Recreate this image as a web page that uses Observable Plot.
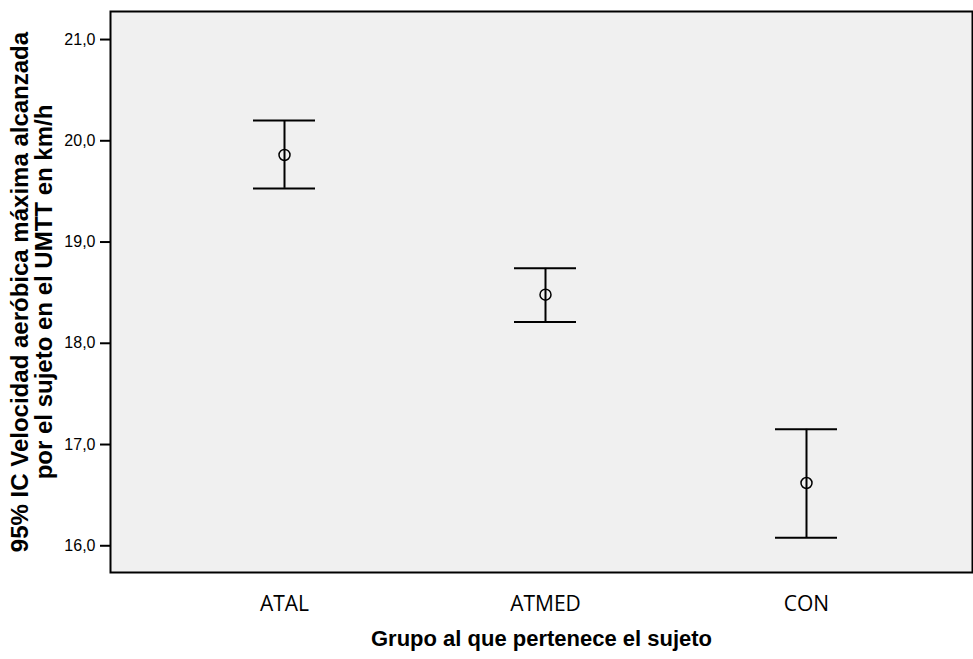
<!DOCTYPE html>
<html>
<head>
<meta charset="utf-8">
<script src="https://cdn.jsdelivr.net/npm/d3@7"></script>
<script src="https://cdn.jsdelivr.net/npm/@observablehq/plot@0.6"></script>
<style>
  html, body { margin: 0; padding: 0; background: #fff; }
</style>
</head>
<body>
<div id="chart"></div>
<script>
// Groups and their mean with 95% confidence interval (km/h)
const groups = ["ATAL", "ATMED", "CON"];
const means = [19.86, 18.48, 16.62];
const lowers = [19.53, 18.21, 16.08];
const uppers = [20.20, 18.74, 17.15];
const yTicks = [16, 17, 18, 19, 20, 21];

const yLabel = "95% IC Velocidad aeróbica máxima alcanzada\npor el sujeto en el UMTT en km/h";
const xLabel = "Grupo al que pertenece el sujeto";

const data = groups.map((g, i) => ({group: g, mean: means[i], lower: lowers[i], upper: uppers[i]}));

const commaFmt = d => d.toFixed(1).replace(".", ",");

const chart = Plot.plot({
  width: 973,
  height: 659,
  marginTop: 11,
  marginBottom: 87,
  marginLeft: 110,
  marginRight: 1,
  style: {fontFamily: "'Liberation Sans', Arial, sans-serif", background: "#fff"},
  x: {type: "band", domain: groups, paddingInner: 0.763, paddingOuter: 0.53, align: 0.515},
  y: {domain: [15.736, 21.277]},
  marks: [
    Plot.frame({fill: "#f0f0f0", stroke: "none"}),
    Plot.axisY({
      ticks: yTicks, tickFormat: commaFmt, tickSize: 10, tickPadding: 5,
      fontSize: 16, label: null, strokeWidth: 2
    }),
    Plot.axisX({
      tickSize: 0, tickPadding: 24, fontSize: 21,
      fontFamily: "'Open Sans', sans-serif",
      label: null
    }),
    Plot.text([xLabel], {
      frameAnchor: "bottom", dy: 73, fontSize: 22, fontWeight: "bold",
      fill: "#000"
    }),
    Plot.text([yLabel], {
      frameAnchor: "left", rotate: -90, dx: -78, fontSize: 24, fontWeight: "bold",
      lineHeight: 1.0, textAnchor: "middle", lineAnchor: "middle", fill: "#000"
    }),
    // confidence interval stems and caps
    Plot.ruleX(data, {x: "group", y1: "lower", y2: "upper", stroke: "#000", strokeWidth: 2}),
    Plot.tickY(data, {x: "group", y: "upper", stroke: "#000", strokeWidth: 2}),
    Plot.tickY(data, {x: "group", y: "lower", stroke: "#000", strokeWidth: 2}),
    // group means
    Plot.dot(data, {x: "group", y: "mean", r: 5.5, stroke: "#000", strokeWidth: 1.5, fill: "none"}),
    Plot.frame({stroke: "#000", strokeWidth: 2})
  ]
});

document.getElementById("chart").appendChild(chart);
</script>
</body>
</html>
